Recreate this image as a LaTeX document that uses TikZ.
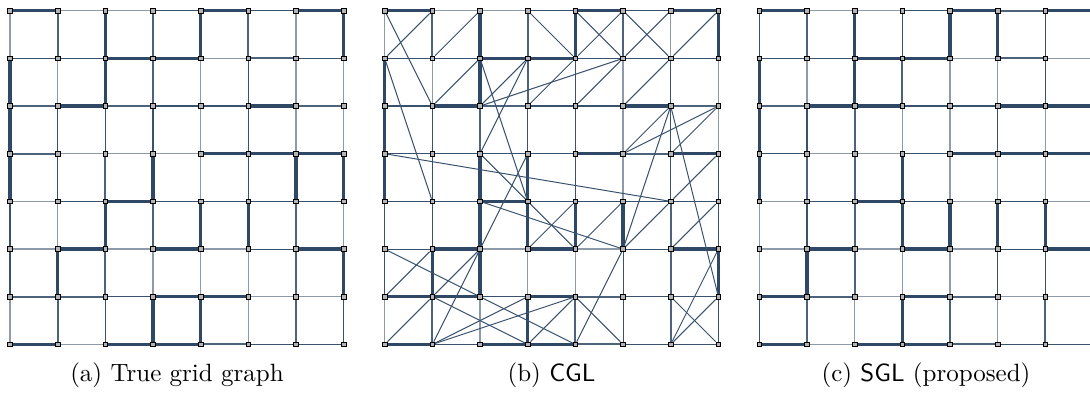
\documentclass[tikz,border=0pt]{standalone}
\usetikzlibrary{backgrounds}
\definecolor{edgeink}{HTML}{2E4865}
\definecolor{nodefill}{HTML}{B4B4B4}

% one 8x8 grid: #1 name, #2 x offset, #3 weights along rows, #4 weights down columns
\newcommand\gridgraph[4]{%
  \foreach \i in {0,...,7}
    \foreach \j in {0,...,7}
      \node[gnode] (#1-\i-\j) at ({#2+10+\i*\gsp}, {10.7+\j*\gsp}) {};
  \begin{scope}[on background layer]
    \foreach \ws [count=\j from 0] in {#3}
      \foreach \w [count=\i from 0] in \ws {
        \pgfmathtruncatemacro\k{\i+1}
        \draw[w\w] (#1-\i-\j) -- (#1-\k-\j);
      }
    \foreach \ws [count=\j from 0] in {#4}
      \foreach \w [count=\i from 0] in \ws {
        \pgfmathtruncatemacro\k{\j+1}
        \draw[w\w] (#1-\i-\j) -- (#1-\i-\k);
      }
  \end{scope}
}

\begin{document}
\begin{tikzpicture}[
  x=0.4pt, y=-0.4pt,
  gnode/.style={draw=black, fill=nodefill, line width=0.3pt, minimum size=1.9pt, inner sep=0pt},
  w1/.style={draw=edgeink!55, line width=0.5pt},
  w2/.style={draw=edgeink!95, line width=0.45pt},
  w3/.style={draw=edgeink!85, line width=0.85pt},
  w4/.style={draw=edgeink, line width=1.4pt},
  extra/.style={draw=edgeink!95, line width=0.4pt},
  caption/.style={anchor=base, inner sep=0pt}
]
\def\gsp{47.67}
\useasboundingbox (0,0) rectangle (1090,396);

% (a) True grid graph
\gridgraph{a}{0}
  {{4,1,1,2,4,2,4},{2,2,4,4,1,3,2},{3,4,3,2,2,4,3},{3,1,1,1,4,4,4},
   {1,2,4,2,2,2,2},{1,4,1,4,1,2,4},{3,3,2,4,4,1,1},{4,1,4,4,3,2,2}}
  {{1,3,4,3,4,3,1,4},{4,1,4,3,1,2,1,1},{4,2,2,2,1,2,1,1},{4,2,3,4,1,2,4,4},
   {2,1,4,3,4,4,3,1},{2,4,3,1,1,1,3,4},{1,3,2,4,4,1,3,2}}
\node[caption] (capA) at (177,381) {(a) True grid graph};

% (b) CGL
\gridgraph{b}{374.7}
  {{4,1,1,2,4,2,4},{2,2,4,4,2,2,2},{2,4,3,2,2,4,3},{2,2,2,2,4,3,4},
   {2,2,4,2,2,2,2},{2,4,1,4,1,2,4},{4,4,2,4,3,2,2},{4,2,4,4,3,2,2}}
  {{1,3,4,3,4,3,1,4},{4,1,4,3,2,1,2,1},{4,2,3,2,2,1,2,1},{4,2,4,4,2,1,2,2},
   {2,2,4,4,4,4,3,2},{2,4,4,1,1,2,3,4},{1,3,1,4,3,2,3,2}}
\begin{scope}[on background layer]
  \foreach \p/\q in {0-0/1-2, 1-0/0-1, 0-1/1-4, 1-1/2-0, 1-2/2-1, 2-1/3-4,
      2-2/3-1, 3-1/2-3, 2-2/5-1, 3-2/4-1, 3-0/4-1, 4-0/5-1, 5-0/4-1,
      5-0/6-1, 6-0/5-1, 7-0/6-1, 4-2/5-1, 5-2/6-1, 6-2/5-3, 7-2/5-3,
      7-2/6-3, 6-2/5-5, 6-2/7-6, 0-3/6-4, 7-3/6-4, 6-4/5-5, 7-4/6-5,
      4-5/5-4, 2-4/5-5, 3-5/4-4, 5-5/4-7, 4-6/5-7, 6-6/7-7, 7-6/6-7,
      7-5/6-7, 0-5/4-7, 1-5/0-6, 0-7/1-6, 1-6/2-5, 1-7/2-5, 1-7/3-6,
      1-6/3-7, 1-7/4-6, 3-7/4-6, 3-3/2-5, 2-3/4-5}
    \draw[extra] (b-\p) -- (b-\q);
\end{scope}
\node[caption] (capB) at (551.5,381) {(b) \textsf{CGL}};

% (c) SGL (proposed)
\gridgraph{c}{749.3}
  {{4,1,1,2,4,3,4},{2,2,4,4,1,3,1},{3,4,4,2,2,4,4},{2,1,1,2,4,4,4},
   {1,2,4,2,1,2,1},{1,4,1,4,1,2,4},{4,3,1,4,3,1,1},{4,1,4,4,3,2,2}}
  {{2,3,4,2,4,4,2,4},{4,1,4,3,1,1,2,1},{4,2,3,1,1,2,1,1},{4,3,3,4,1,1,1,4},
   {1,2,3,4,4,4,4,1},{1,4,3,1,1,2,2,4},{2,3,1,4,3,1,3,2}}
\node[caption] (capC) at (926,381) {(c) \textsf{SGL} (proposed)};

\end{tikzpicture}
\end{document}
